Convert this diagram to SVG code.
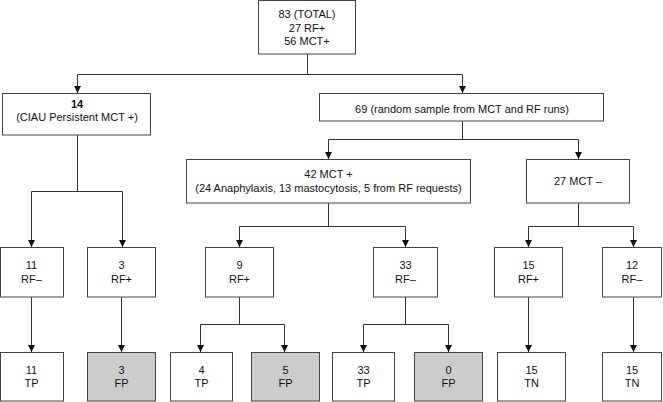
<svg xmlns="http://www.w3.org/2000/svg" width="663" height="402" viewBox="0 0 663 402">
<style>
.box{fill:#fff;stroke:#444;stroke-width:1}
.gray{fill:#cccccc;stroke:#444;stroke-width:1}
text{font-family:"Liberation Sans",Arial,sans-serif;font-size:11px;fill:#111;text-anchor:middle}
.b{font-weight:bold}
.c{fill:none;stroke:#333;stroke-width:1}
</style>
<defs>
<marker id="ah" viewBox="0 0 8 8" refX="8" refY="4" markerWidth="7" markerHeight="7" markerUnits="userSpaceOnUse" orient="auto">
<path d="M0,0 L8,4 L0,8 Z" fill="#111"/>
</marker>
</defs>
<rect width="663" height="402" fill="#fff"/>
<g id="connectors">
<path class="c" d="M307.5,54 V74.5 M77.5,74.5 H462.5"/>
<path class="c" d="M77.5,74.5 V93" marker-end="url(#ah)"/>
<path class="c" d="M462.5,74.5 V93" marker-end="url(#ah)"/>
<path class="c" d="M77.5,135 V191.5 M31.5,191.5 H122.5"/>
<path class="c" d="M31.5,191.5 V247" marker-end="url(#ah)"/>
<path class="c" d="M122.5,191.5 V247" marker-end="url(#ah)"/>
<path class="c" d="M462.5,121 V139.5 M328.5,139.5 H578.5"/>
<path class="c" d="M328.5,139.5 V159" marker-end="url(#ah)"/>
<path class="c" d="M578.5,139.5 V159" marker-end="url(#ah)"/>
<path class="c" d="M328.5,203 V226.5 M239.5,226.5 H405.5"/>
<path class="c" d="M239.5,226.5 V247" marker-end="url(#ah)"/>
<path class="c" d="M405.5,226.5 V247" marker-end="url(#ah)"/>
<path class="c" d="M578.5,203 V226.5 M528.5,226.5 H633.5"/>
<path class="c" d="M528.5,226.5 V247" marker-end="url(#ah)"/>
<path class="c" d="M633.5,226.5 V247" marker-end="url(#ah)"/>
<path class="c" d="M31.5,297 V352" marker-end="url(#ah)"/>
<path class="c" d="M121.5,297 V352" marker-end="url(#ah)"/>
<path class="c" d="M239.5,297 V324.5 M200.5,324.5 H284.5"/>
<path class="c" d="M200.5,324.5 V352" marker-end="url(#ah)"/>
<path class="c" d="M284.5,324.5 V352" marker-end="url(#ah)"/>
<path class="c" d="M405.5,297 V324.5 M363.5,324.5 H448.5"/>
<path class="c" d="M363.5,324.5 V352" marker-end="url(#ah)"/>
<path class="c" d="M448.5,324.5 V352" marker-end="url(#ah)"/>
<path class="c" d="M528.5,297 V352" marker-end="url(#ah)"/>
<path class="c" d="M633.5,297 V352" marker-end="url(#ah)"/>
</g>
<g id="total"><rect class="box" x="258.5" y="0.5" width="97" height="53.5"/><text x="307" y="18">83 (TOTAL)</text><text x="307" y="31.5">27 RF+</text><text x="307" y="45">56 MCT+</text></g>
<g id="ciau"><rect class="box" x="2.5" y="93.5" width="148" height="41.5"/><text class="b" x="77" y="107.5">14</text><text x="77" y="121">(CIAU Persistent MCT +)</text></g>
<g id="random"><rect class="box" x="319.5" y="93.5" width="284" height="27.5"/><text x="462" y="112.5">69 (random sample from MCT and RF runs)</text></g>
<g id="mctpos"><rect class="box" x="186.5" y="159.5" width="284" height="43.5"/><text x="328.5" y="178">42 MCT +</text><text x="328.5" y="191.5">(24 Anaphylaxis, 13 mastocytosis, 5 from RF requests)</text></g>
<g id="mctneg"><rect class="box" x="526.5" y="159.5" width="103" height="43.5"/><text x="578" y="185">27 MCT –</text></g>
<g id="r11"><rect class="box" x="0.5" y="247.5" width="63" height="49.5"/><text x="31.5" y="269">11</text><text x="31.5" y="282.5">RF–</text></g>
<g id="r3"><rect class="box" x="87.5" y="247.5" width="68" height="49.5"/><text x="121.5" y="269">3</text><text x="121.5" y="282.5">RF+</text></g>
<g id="r9"><rect class="box" x="205.5" y="247.5" width="68" height="49.5"/><text x="239.5" y="269">9</text><text x="239.5" y="282.5">RF+</text></g>
<g id="r33"><rect class="box" x="373.5" y="247.5" width="64" height="49.5"/><text x="405.5" y="269">33</text><text x="405.5" y="282.5">RF–</text></g>
<g id="r15"><rect class="box" x="494.5" y="247.5" width="68" height="49.5"/><text x="528.5" y="269">15</text><text x="528.5" y="282.5">RF+</text></g>
<g id="r12"><rect class="box" x="602.5" y="247.5" width="59" height="49.5"/><text x="632" y="269">12</text><text x="632" y="282.5">RF–</text></g>
<g id="tp11"><rect class="box" x="0.5" y="352.5" width="63" height="48.5"/><text x="31.5" y="373.5">11</text><text x="31.5" y="387">TP</text></g>
<g id="fp3"><rect class="gray" x="87.5" y="352.5" width="68" height="48.5"/><text x="121.5" y="373.5">3</text><text x="121.5" y="387">FP</text></g>
<g id="tp4"><rect class="box" x="170.5" y="352.5" width="62" height="48.5"/><text x="201.5" y="373.5">4</text><text x="201.5" y="387">TP</text></g>
<g id="fp5"><rect class="gray" x="251.5" y="352.5" width="68" height="48.5"/><text x="285.5" y="373.5">5</text><text x="285.5" y="387">FP</text></g>
<g id="tp33"><rect class="box" x="332.5" y="352.5" width="62" height="48.5"/><text x="363.5" y="373.5">33</text><text x="363.5" y="387">TP</text></g>
<g id="fp0"><rect class="gray" x="414.5" y="352.5" width="68" height="48.5"/><text x="448.5" y="373.5">0</text><text x="448.5" y="387">FP</text></g>
<g id="tn15a"><rect class="box" x="497.5" y="352.5" width="68" height="48.5"/><text x="531.5" y="373.5">15</text><text x="531.5" y="387">TN</text></g>
<g id="tn15b"><rect class="box" x="602.5" y="352.5" width="59" height="48.5"/><text x="632" y="373.5">15</text><text x="632" y="387">TN</text></g>
</svg>
